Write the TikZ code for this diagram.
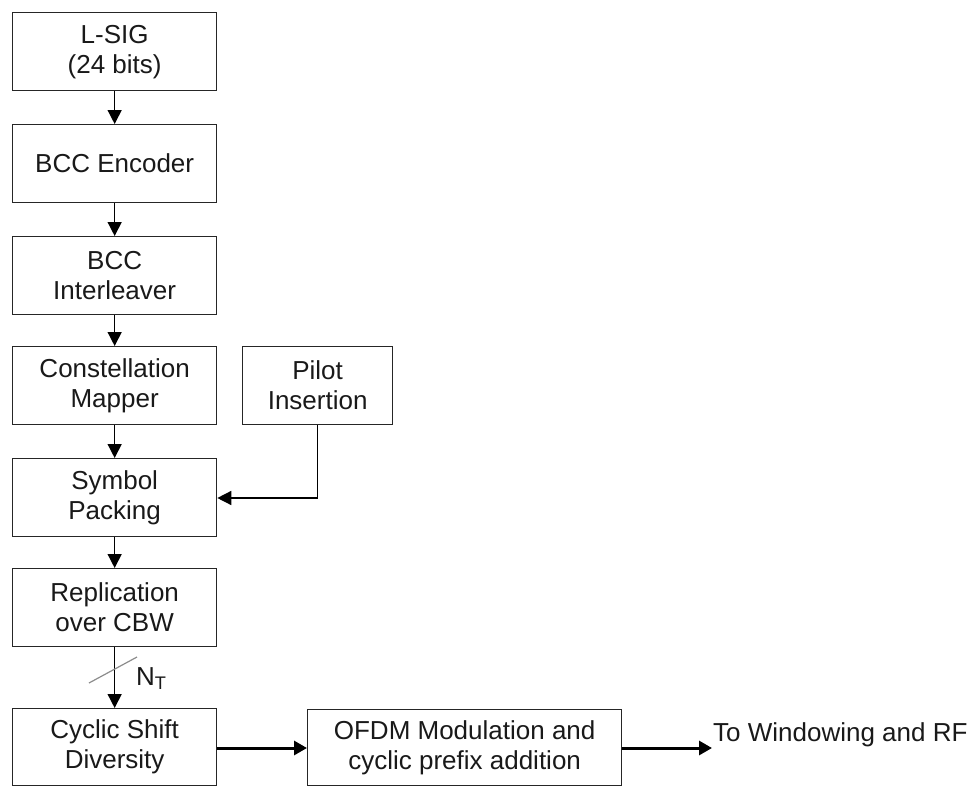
\documentclass[tikz,border=0pt]{standalone}
\usepackage{fontspec}
\setmainfont{Liberation Sans}
\usetikzlibrary{arrows.meta}
\begin{document}
\begin{tikzpicture}[x=1pt,y=-1pt,
  txt/.style={font=\fontsize{26}{30}\selectfont,text=black!90},
  blk/.style={txt,draw=black!85,line width=1.3pt,minimum width=204pt,minimum height=78pt,
    align=center,inner sep=0pt,anchor=north west},
  sblk/.style={blk,minimum width=150pt},
  arr/.style={line width=1.4pt,-{Triangle[length=14pt,width=14pt]}},
  tarr/.style={line width=3pt,-{Triangle[length=13pt,width=14pt]}}]
\useasboundingbox (0,0) rectangle (972,787);
\node[blk] (lsig) at (12,12) {L-SIG\\(24 bits)};
\node[blk] (enc) at (12,124) {BCC Encoder};
\node[blk] (intl) at (12,236) {BCC\\Interleaver};
\node[blk] (map) at (12,346) {Constellation\\Mapper};
\node[sblk] (pilot) at (242,346) {Pilot\\Insertion};
\node[blk] (pack) at (12,458) {Symbol\\Packing};
\node[blk] (rep) at (12,568) {Replication\\over CBW};
\node[blk,minimum height=77pt] (csd) at (12,708) {Cyclic Shift\\Diversity};
\node[blk,minimum width=314pt,minimum height=76pt] (ofdm) at (307,709) {OFDM Modulation and\\cyclic prefix addition};
\node[txt,anchor=west,inner sep=0pt] (out) at (713,735) {To Windowing and RF};
\coordinate (outend) at (712,748);
\draw[arr] (lsig) -- (enc);
\draw[arr] (enc) -- (intl);
\draw[arr] (intl) -- (map);
\draw[arr] (map) -- (pack);
\draw[arr] (pilot.south) |- (pack.east |- 0,498);
\draw[arr] (pack) -- (rep);
\draw[arr] (rep) -- (csd);
\draw[black!45,line width=1.2pt] (89,683) -- (137,657);
\node[txt,inner sep=0pt,anchor=west] (nt) at (136,679) {N\textsubscript{T}};
\draw[tarr] (csd.east |- 0,748) -- (ofdm.west |- 0,748);
\draw[tarr] (ofdm.east |- 0,748) -- (outend);
\end{tikzpicture}
\end{document}
